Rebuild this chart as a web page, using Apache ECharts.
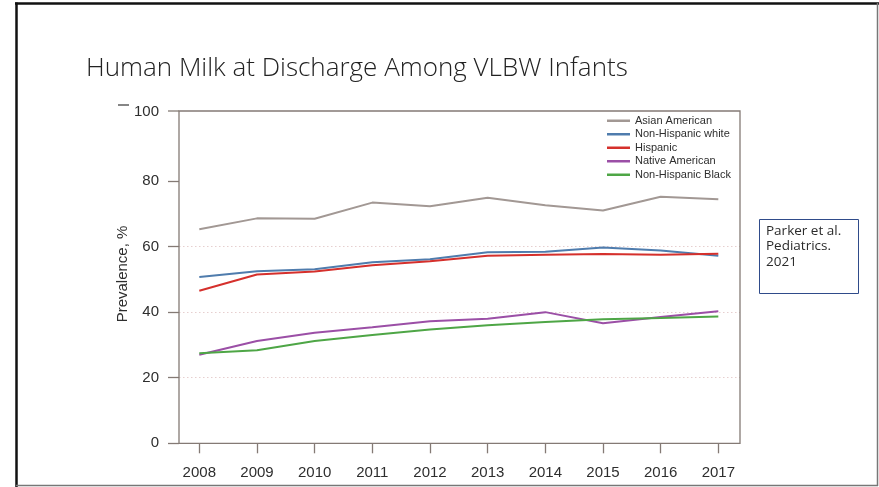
<!DOCTYPE html>
<html>
<head>
<meta charset="utf-8">
<script src="https://cdn.jsdelivr.net/npm/echarts@6/dist/echarts.min.js"></script>
<style>
html,body{margin:0;padding:0;background:#fff;}
#c{width:879px;height:487px;}
</style>
</head>
<body>
<div id="c"></div>
<script>
var years = [2008, 2009, 2010, 2011, 2012, 2013, 2014, 2015, 2016, 2017];
var yTicks = [0, 20, 40, 60, 80, 100];
var seriesNames = ['Asian American', 'Non-Hispanic white', 'Hispanic', 'Native American', 'Non-Hispanic Black'];
var asianAmerican = [65.3, 68.6, 68.5, 73.4, 72.3, 74.9, 72.6, 71.0, 75.2, 74.4];
var nonHispanicWhite = [50.7, 52.5, 53.1, 55.2, 56.1, 58.3, 58.4, 59.7, 58.8, 57.2];
var hispanic = [46.5, 51.5, 52.4, 54.3, 55.5, 57.2, 57.5, 57.7, 57.5, 57.8];
var nativeAmerican = [27.0, 31.2, 33.7, 35.4, 37.2, 38.0, 40.0, 36.6, 38.5, 40.3];
var nonHispanicBlack = [27.5, 28.4, 31.2, 33.0, 34.7, 36.0, 37.0, 37.8, 38.2, 38.7];
var citation = ['Parker et al.', 'Pediatrics.', '2021'];
var titleText = 'Human Milk at Discharge Among VLBW Infants';

var colors = ['#a29894', '#4f7cad', '#d5302c', '#9b4fa6', '#4ea646'];
var values = [asianAmerican, nonHispanicWhite, hispanic, nativeAmerican, nonHispanicBlack];

var chart = echarts.init(document.getElementById('c'));
var boxColor = '#847a75';
var textColor = '#2e2e2e';
var sans = '"Liberation Sans", Arial, sans-serif';

var series = seriesNames.map(function (n, i) {
  return {
    name: n,
    type: 'line',
    data: years.map(function (y, j) { return [y, values[i][j]]; }),
    symbol: 'none',
    lineStyle: { color: colors[i], width: 2 },
    itemStyle: { color: colors[i] },
    z: 3 + i
  };
});

var graphics = [
  // slide frame
  { type: 'line', shape: { x1: 15, y1: 3.5, x2: 879, y2: 3.5 }, style: { stroke: '#111', lineWidth: 2.5 } },
  { type: 'line', shape: { x1: 16.5, y1: 2.5, x2: 16.5, y2: 487 }, style: { stroke: '#111', lineWidth: 2.5 } },
  { type: 'line', shape: { x1: 16, y1: 485.5, x2: 878, y2: 485.5 }, style: { stroke: '#777', lineWidth: 1.5 } },
  { type: 'line', shape: { x1: 877.5, y1: 3, x2: 877.5, y2: 486 }, style: { stroke: '#777', lineWidth: 1.5 } },
  // title
  { type: 'text', left: 86, top: 56, style: { text: titleText, font: '300 26px "Open Sans", "Noto Sans", sans-serif', fill: '#222' } },
  // plot box
  { type: 'rect', shape: { x: 179, y: 111, width: 561, height: 332.3 }, style: { fill: 'none', stroke: boxColor, lineWidth: 1.3 }, z: 10 },
  { type: 'line', shape: { x1: 168, y1: 111, x2: 179, y2: 111 }, style: { stroke: boxColor, lineWidth: 1.3 }, z: 10 },
  { type: 'line', shape: { x1: 118, y1: 105, x2: 129, y2: 105 }, style: { stroke: '#444', lineWidth: 1.3 }, z: 10 },
  // y axis name
  { type: 'text', x: 123, y: 274, rotation: Math.PI / 2, style: { text: 'Prevalence, %', font: '15px ' + sans, fill: textColor, align: 'center', verticalAlign: 'middle' } },
  // citation box
  { type: 'rect', shape: { x: 759.5, y: 219.5, width: 99, height: 74 }, style: { fill: '#fff', stroke: '#2f4b8a', lineWidth: 1 } },
  { type: 'text', left: 766, top: 223, style: { text: citation.join('\n'), font: '13.5px "Open Sans", "Noto Sans", sans-serif', lineHeight: 15.5, fill: '#2b2b2b' } }
];

chart.setOption({
  animation: false,
  backgroundColor: '#fff',
  grid: { left: 179, right: 139, top: 115.4, bottom: 43.7, show: false },
  legend: {
    orient: 'vertical',
    left: 602,
    top: 109,
    icon: 'rect',
    itemWidth: 23,
    itemHeight: 2.5,
    itemGap: 0,
    textStyle: { fontFamily: sans, fontSize: 11, color: textColor, lineHeight: 13.5 },
    data: seriesNames
  },
  xAxis: {
    type: 'value',
    min: 2007.648,
    max: 2017.376,
    axisLine: { show: false },
    splitLine: { show: false },
    axisTick: { show: true, length: 10, customValues: years, lineStyle: { color: boxColor, width: 1.3 } },
    axisLabel: { customValues: years, margin: 22, fontFamily: sans, fontSize: 15, color: textColor, formatter: function (v) { return String(v); } }
  },
  yAxis: {
    type: 'value',
    min: 0,
    max: 100,
    interval: 20,
    axisLine: { show: false },
    axisTick: { show: true, length: 11, customValues: yTicks.slice(0, 5), lineStyle: { color: boxColor, width: 1.3 } },
    axisLabel: {
      customValues: yTicks,
      margin: 20,
      fontFamily: sans,
      fontSize: 15,
      color: textColor,
      formatter: function (v) { return v === 100 ? '{t|100}' : String(v); },
      rich: { t: { fontFamily: sans, fontSize: 15, color: textColor, padding: [0, 0, 7, 0] } }
    },
    splitLine: { show: true, showMinLine: false, showMaxLine: false, lineStyle: { color: '#e6cfcf', type: [1.5, 2.5], width: 1 } }
  },
  graphic: graphics,
  series: series
});
</script>
</body>
</html>
